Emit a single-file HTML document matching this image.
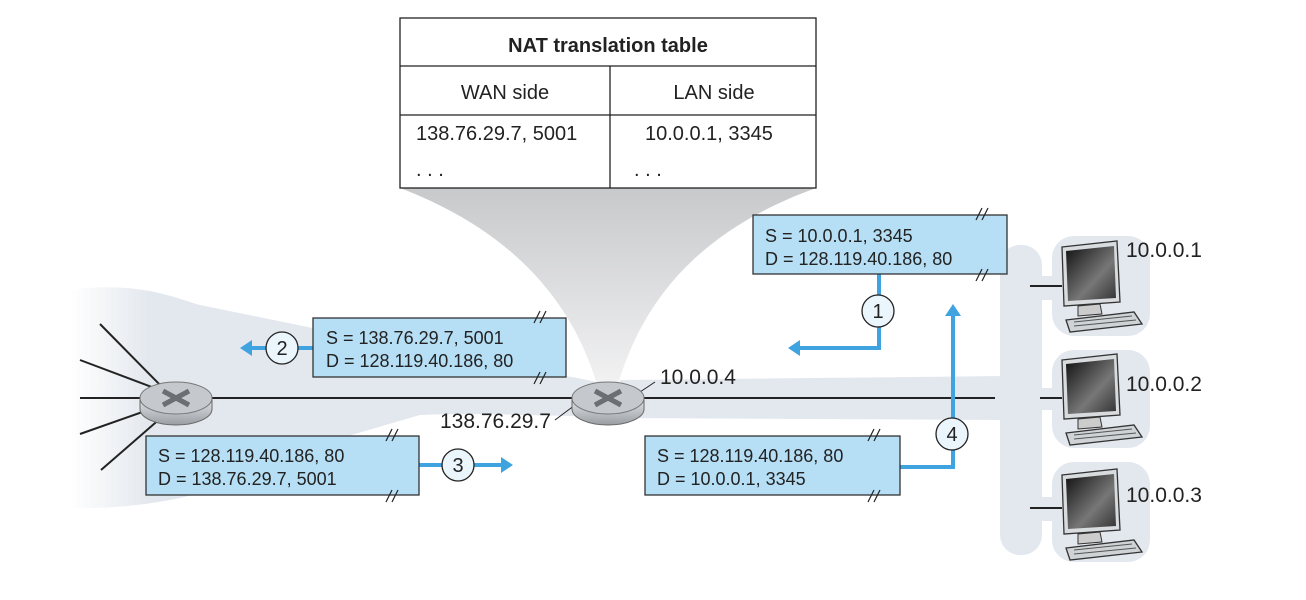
<!DOCTYPE html>
<html><head><style>body{margin:0;background:#fff}svg{display:block}text{font-family:"Liberation Sans",sans-serif}</style></head><body>
<svg width="1306" height="600" viewBox="0 0 1306 600" xmlns="http://www.w3.org/2000/svg">
<defs>
<linearGradient id="fun" x1="0" y1="0" x2="0" y2="1"><stop offset="0" stop-color="#c8c9cb"/><stop offset="1" stop-color="#f4f4f5"/></linearGradient>
<linearGradient id="lf" x1="0" y1="0" x2="1" y2="0"><stop offset="0" stop-color="#fff"/><stop offset="0.15" stop-color="#e3e8ee"/></linearGradient>
<linearGradient id="rt" x1="0" y1="0" x2="0" y2="1"><stop offset="0" stop-color="#e4e6e8"/><stop offset="1" stop-color="#9a9ea3"/></linearGradient>
<linearGradient id="scr" x1="0" y1="0" x2="1" y2="1"><stop offset="0" stop-color="#111"/><stop offset="0.6" stop-color="#777"/><stop offset="1" stop-color="#333"/></linearGradient>
<marker id="ah" markerWidth="4" markerHeight="4" refX="1" refY="2" orient="auto" markerUnits="strokeWidth"><path d="M0,0 L3,2 L0,4 z" fill="#3fa3e0"/></marker>
</defs>
<path d="M400,188 L816,188 C700,230 640,300 615,395 L600,395 C575,300 510,230 400,188 Z" fill="url(#fun)"/>
<path d="M70,290 C140,280 180,300 200,305 L470,360 C520,372 580,375 605,385 L605,415 C560,418 500,412 420,415 L300,450 C250,480 180,510 70,508 Z" fill="url(#lf)"/>
<g fill="#e3e8ee">
<path d="M620,380 L1005,376 L1005,420 L620,418 Z"/>
<rect x="1000" y="245" width="42" height="310" rx="20"/>
<rect x="1030" y="276" width="30" height="24"/>
<rect x="1030" y="388" width="30" height="22"/>
<rect x="1030" y="497" width="30" height="24"/>
<rect x="1052" y="236" width="98" height="100" rx="22"/>
<rect x="1052" y="350" width="98" height="98" rx="22"/>
<rect x="1052" y="462" width="98" height="100" rx="22"/>
</g>
<g stroke="#222" stroke-width="2">
<line x1="80" y1="398" x2="995" y2="398"/>
<line x1="165" y1="390" x2="100" y2="324"/>
<line x1="165" y1="392" x2="80" y2="360"/>
<line x1="165" y1="404" x2="80" y2="434"/>
<line x1="170" y1="410" x2="101" y2="470"/>
<line x1="1030" y1="286" x2="1062" y2="286"/>
<line x1="1040" y1="398" x2="1062" y2="398"/>
<line x1="1030" y1="508" x2="1062" y2="508"/>
</g>
<line x1="640" y1="392" x2="655" y2="382" stroke="#222" stroke-width="1"/>
<line x1="575" y1="405" x2="555" y2="420" stroke="#222" stroke-width="1"/>
<g><path d="M140,398 v11 a36,16 0 0 0 72,0 v-11 z" fill="url(#rt)" stroke="#666"/><ellipse cx="176" cy="398" rx="36" ry="16" fill="#c5c9cd" stroke="#777"/><path d="M163,391 L189,405 M189,391 L163,405" stroke="#6b6f74" stroke-width="5"/></g>
<g><path d="M572,398 v11 a36,16 0 0 0 72,0 v-11 z" fill="url(#rt)" stroke="#666"/><ellipse cx="608" cy="398" rx="36" ry="16" fill="#c5c9cd" stroke="#777"/><path d="M595,391 L621,405 M621,391 L595,405" stroke="#6b6f74" stroke-width="5"/></g>
<g stroke="#222" stroke-width="1.3" fill="#fff">
<rect x="400" y="18" width="416" height="170"/>
<line x1="400" y1="66" x2="816" y2="66"/><line x1="400" y1="115" x2="816" y2="115"/><line x1="610" y1="66" x2="610" y2="188"/>
</g>
<g font-size="20" fill="#222">
<text x="608" y="52" text-anchor="middle" font-weight="bold">NAT translation table</text>
<text x="505" y="99" text-anchor="middle">WAN side</text>
<text x="714" y="99" text-anchor="middle">LAN side</text>
<text x="416" y="140">138.76.29.7, 5001</text>
<text x="645" y="140">10.0.0.1, 3345</text>
<text x="416" y="176">. . .</text><text x="634" y="176">. . .</text>
</g>
<g stroke="#3fa3e0" stroke-width="4" fill="none">
<polyline points="879,274 879,348 796,348" marker-end="url(#ah)"/>
<polyline points="313,348 248,348" marker-end="url(#ah)"/>
<polyline points="419,465 505,465" marker-end="url(#ah)"/>
<polyline points="900,467 953,467 953,312" marker-end="url(#ah)"/>
</g>
<g fill="#b6dff5" stroke="#333" stroke-width="1.3">
<rect x="753" y="215" width="254" height="59"/>
<rect x="313" y="318" width="253" height="59"/>
<rect x="146" y="436" width="273" height="59"/>
<rect x="645" y="436" width="255" height="59"/>
</g>
<g stroke="#222" stroke-width="1.2">
<path d="M976,220 l6,-12 M982,220 l6,-12 M976,281 l6,-12 M982,281 l6,-12"/>
<path d="M534,323 l6,-12 M540,323 l6,-12 M534,384 l6,-12 M540,384 l6,-12"/>
<path d="M386,441 l6,-12 M392,441 l6,-12 M386,502 l6,-12 M392,502 l6,-12"/>
<path d="M868,441 l6,-12 M874,441 l6,-12 M868,502 l6,-12 M874,502 l6,-12"/>
</g>
<g font-size="18" fill="#222">
<text x="765" y="242">S = 10.0.0.1, 3345</text><text x="765" y="265">D = 128.119.40.186, 80</text>
<text x="326" y="344">S = 138.76.29.7, 5001</text><text x="326" y="367">D = 128.119.40.186, 80</text>
<text x="158" y="462">S = 128.119.40.186, 80</text><text x="158" y="485">D = 138.76.29.7, 5001</text>
<text x="657" y="462">S = 128.119.40.186, 80</text><text x="657" y="485">D = 10.0.0.1, 3345</text>
</g>
<g fill="#eaf5fc" stroke="#222" stroke-width="1.3">
<circle cx="878" cy="311" r="16"/><circle cx="282" cy="348" r="16"/><circle cx="458" cy="465" r="16"/><circle cx="952" cy="434" r="16"/>
</g>
<g font-size="20" fill="#222" text-anchor="middle">
<text x="878" y="318">1</text><text x="282" y="355">2</text><text x="458" y="472">3</text><text x="952" y="441">4</text>
</g>
<g font-size="21" fill="#222">
<text x="660" y="384">10.0.0.4</text>
<text x="440" y="428">138.76.29.7</text>
<text x="1126" y="257">10.0.0.1</text>
<text x="1126" y="391">10.0.0.2</text>
<text x="1126" y="502">10.0.0.3</text>
</g>
<g id="pc">
<path d="M1062,247 L1117,241 L1120,302 L1064,306 Z" fill="#d9dcdf" stroke="#333" stroke-width="1.3"/>
<path d="M1066,251 L1114,246 L1116,298 L1068,301 Z" fill="url(#scr)"/>
<path d="M1078,306 L1100,304 L1102,314 L1078,316 Z" fill="#ccc" stroke="#333"/>
<path d="M1066,320 L1134,312 L1142,324 L1070,332 Z" fill="#cfd3d6" stroke="#333" stroke-width="1.3"/>
<path d="M1074,322 L1132,316 M1074,326 L1136,320" stroke="#555"/>
</g>
<use href="#pc" y="113"/>
<use href="#pc" y="228"/>
</svg>
</body></html>
